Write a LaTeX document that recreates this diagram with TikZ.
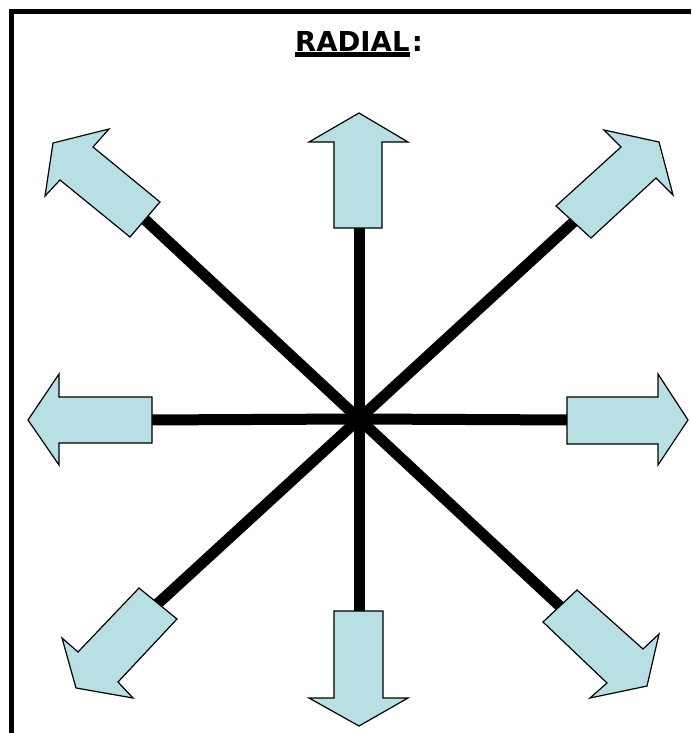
\documentclass[tikz,border=0pt]{standalone}
\usepackage{fontspec}
\newfontfamily\titlefont{DejaVu Sans}
\definecolor{arrowfill}{RGB}{184,223,227}
\tikzset{
  spoke/.style={line width=11pt, black},
  blockarrow/.style={draw=black, line width=1.2pt, fill=arrowfill, line join=miter},
  frameline/.style={line width=4.5pt, black}
}
\begin{document}
\begin{tikzpicture}[x=1pt,y=-1pt]
\useasboundingbox (0,0) rectangle (691,733);
\fill[white] (0,0) rectangle (691,733);
% frame (top and left edges visible)
\draw[frameline] (11.5,733) -- (11.5,11.5) -- (691,11.5);
% title
\node[anchor=base west, inner sep=0pt, font=\titlefont\bfseries\fontsize{27.5}{30}\selectfont] (title) at (295,52) {RADIAL};
\node[anchor=base west, inner sep=0pt, font=\titlefont\bfseries\fontsize{27.5}{30}\selectfont] (colon) at ([xshift=2pt]title.base east) {:};
\fill ([yshift=0pt]title.base west) rectangle ([yshift=-5pt]title.base east);
% centre and arrow bases (spokes reach slightly inside each arrow)
\coordinate (c) at (359,419);
\coordinate (bU) at (359,220);
\coordinate (bD) at (359,619);
\coordinate (bL) at (144,420);
\coordinate (bR) at (575,420);
\coordinate (bUL) at (140,215);
\coordinate (bUR) at (579,217);
\coordinate (bLR) at (565,611);
\coordinate (bLL) at (153,608);
% spokes
\foreach \b in {bU,bD,bL,bR,bUL,bUR,bLR,bLL}
  \draw[spoke] (c) -- (\b);
% arrows
\draw[blockarrow] (334,228) -- (334,142) -- (309,142) -- (359,113) -- (408,142) -- (382,142) -- (382,228) -- cycle;
\draw[blockarrow] (334,611) -- (334,698) -- (309,698) -- (359,726) -- (408,698) -- (383,698) -- (383,611) -- cycle;
\draw[blockarrow] (152,397) -- (59,397) -- (59,374) -- (28,420) -- (59,465) -- (59,443) -- (152,443) -- cycle;
\draw[blockarrow] (567,397) -- (658,397) -- (658,374) -- (688,420) -- (658,465) -- (658,444) -- (567,444) -- cycle;
\draw[blockarrow] (160,202) -- (93,147) -- (109,129) -- (53,143) -- (45,196) -- (60,180) -- (130,237) -- cycle;
\draw[blockarrow] (556,206) -- (621,147) -- (604,130) -- (659,142) -- (673,195) -- (656,178) -- (591,238) -- cycle;
\draw[blockarrow] (577,590) -- (643,649) -- (659,634) -- (647,686) -- (590,698) -- (607,683) -- (543,622) -- cycle;
\draw[blockarrow] (139,588) -- (177,619) -- (118,682) -- (133,698) -- (76,688) -- (62,638) -- (78,652) -- cycle;
\end{tikzpicture}
\end{document}
